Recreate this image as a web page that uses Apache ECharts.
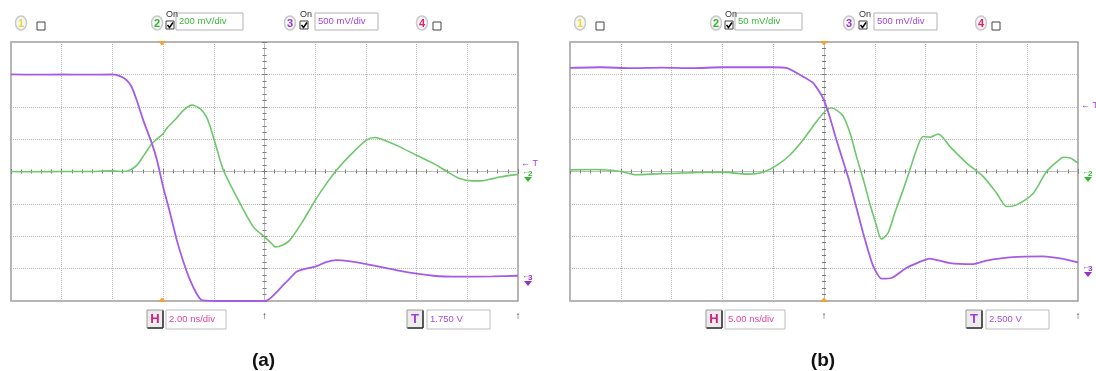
<!DOCTYPE html>
<html>
<head>
<meta charset="utf-8">
<script src="https://cdn.jsdelivr.net/npm/echarts@6/dist/echarts.min.js"></script>
<style>
html,body{margin:0;padding:0;background:#fff;}
#chart{width:1096px;height:371px;}
</style>
</head>
<body>
<div id="chart"></div>
<script>
// ---------- Data (time in ns, amplitude in screen divisions) ----------
// Panel (a): 2.00 ns/div
const aCh2Time = [-10, -9, -8, -7, -6, -5.56, -5.3, -5.04, -4.74, -4.44, -4.0, -3.86, -3.5, -3.2, -2.86, -2.54, -2.3, -2.14, -1.9, -1.62, -1.1, -0.44, 0.0, 0.34, 0.42, 0.7, 1.0, 1.5, 2.0, 2.4, 2.84, 3.4, 4.02, 4.36, 4.8, 5.34, 6.0, 6.66, 7.2, 7.7, 8.2, 8.56, 9.0, 9.28, 10];
const aCh2Val  = [0.0, -0.01, 0.0, 0.0, 0.02, 0.0, 0.05, 0.19, 0.52, 0.86, 1.17, 1.33, 1.62, 1.89, 2.05, 1.94, 1.7, 1.38, 0.75, 0.04, -0.78, -1.71, -2.02, -2.27, -2.33, -2.28, -2.12, -1.55, -0.89, -0.42, 0.04, 0.52, 0.97, 1.05, 0.94, 0.76, 0.5, 0.25, 0.0, -0.22, -0.29, -0.29, -0.22, -0.17, -0.09];
const aCh3Time = [-10, -9, -8, -7, -6, -5.68, -5.44, -5.24, -5.04, -4.78, -4.44, -4.24, -4.0, -3.72, -3.46, -3.2, -2.94, -2.68, -2.48, -1.5, -0.5, 0.02, 0.22, 0.62, 1.0, 1.26, 1.52, 2.0, 2.46, 2.84, 3.24, 4.02, 5.34, 6.66, 7.7, 9.0, 10];
const aCh3Val  = [3.0, 2.99, 3.0, 2.99, 3.0, 2.94, 2.82, 2.61, 2.2, 1.58, 0.86, 0.35, -0.47, -1.3, -2.12, -2.79, -3.35, -3.77, -3.97, -4.0, -4.0, -4.0, -3.92, -3.61, -3.3, -3.1, -3.02, -2.94, -2.79, -2.74, -2.76, -2.86, -3.07, -3.22, -3.25, -3.24, -3.22];

// Panel (b): 5.00 ns/div
const bCh2Time = [-25, -22.5, -20, -18.5, -17, -15, -12.5, -10, -7.5, -6, -4.7, -3.35, -2.05, -0.75, 0.25, 0.75, 1.3, 1.9, 2.6, 3.2, 3.9, 4.5, 5.1, 5.65, 6.3, 7.0, 7.8, 8.5, 9.1, 9.75, 10.4, 11.25, 12.4, 14.05, 15.65, 17.0, 17.95, 18.95, 20.6, 21.9, 23.0, 23.55, 24.25, 25];
const bCh2Val  = [0.05, 0.06, 0.0, -0.1, -0.08, -0.06, -0.03, -0.02, -0.08, -0.02, 0.18, 0.51, 0.98, 1.54, 1.9, 1.96, 1.88, 1.7, 1.15, 0.46, -0.28, -0.98, -1.6, -2.09, -1.9, -1.25, -0.56, 0.1, 0.67, 1.08, 1.06, 1.16, 0.77, 0.26, -0.15, -0.67, -1.08, -1.03, -0.67, 0.0, 0.32, 0.44, 0.42, 0.26];
const bCh3Time = [-25, -22, -19, -16, -13, -10, -7, -5, -3.7, -2.05, -1.05, -0.1, 0.5, 1.25, 1.9, 2.55, 3.2, 3.85, 4.4, 4.85, 5.65, 6.65, 8.1, 9.2, 10.4, 12.4, 14.7, 16.0, 18.3, 21.55, 23.55, 25];
const bCh3Val  = [3.2, 3.22, 3.19, 3.21, 3.19, 3.22, 3.22, 3.22, 3.2, 2.93, 2.73, 2.27, 1.75, 0.95, 0.3, -0.36, -1.13, -1.9, -2.5, -2.93, -3.31, -3.29, -2.98, -2.82, -2.69, -2.83, -2.86, -2.75, -2.65, -2.62, -2.70, -2.81];

// Axis scales
const aTimeMin = -10, aTimeMax = 10, aTimeStep = 2;   // 2 ns/div
const bTimeMin = -25, bTimeMax = 25, bTimeStep = 5;   // 5 ns/div
const divMin = -4, divMax = 4, divStep = 1;           // 8 vertical divisions

// Labels
const aLabels = {ch2: '200 mV/div', ch3: '500 mV/div', h: '2.00 ns/div', t: '1.750 V', name: '(a)'};
const bLabels = {ch2: '50 mV/div', ch3: '500 mV/div', h: '5.00 ns/div', t: '2.500 V', name: '(b)'};

// ---------- Build chart ----------
const GREEN = '#6cc86a';
const PURPLE = '#a45ce6';
const pairs = (t, v) => t.map((x, i) => [x, v[i]]);

const panels = [
  {left: 11, top: 42, width: 507, height: 259, tmin: aTimeMin, tmax: aTimeMax, tstep: aTimeStep,
   g: pairs(aCh2Time, aCh2Val), p: pairs(aCh3Time, aCh3Val)},
  {left: 570, top: 42, width: 508, height: 259, tmin: bTimeMin, tmax: bTimeMax, tstep: bTimeStep,
   g: pairs(bCh2Time, bCh2Val), p: pairs(bCh3Time, bCh3Val)}
];

const grid = [], xAxis = [], yAxis = [], series = [];
panels.forEach((P, gi) => {
  grid.push({left: P.left, top: P.top, width: P.width, height: P.height, show: true,
    borderColor: '#9c9c9c', borderWidth: 1.5, backgroundColor: '#fff', containLabel: false});
  const xMain = xAxis.length, yMain = yAxis.length;
  const gridLine = {show: true, lineStyle: {color: '#b8b8b8', type: 'dotted', width: 1}};
  const tickStyle = {color: '#7a7a7a', width: 1};
  // main x (grid lines)
  xAxis.push({gridIndex: gi, type: 'value', min: P.tmin, max: P.tmax, interval: P.tstep,
    axisLine: {show: false, onZero: false}, axisTick: {show: false}, axisLabel: {show: false}, splitLine: gridLine});
  // centre x tick axes (up and down)
  [true, false].forEach(inside => {
    xAxis.push({gridIndex: gi, type: 'value', position: 'bottom', min: P.tmin, max: P.tmax, interval: P.tstep,
      axisLine: {show: true, onZero: true, onZeroAxisIndex: yMain, lineStyle: {color: '#b8b8b8', type: 'dotted'}},
      axisTick: {show: true, inside: inside, length: 2.5, lineStyle: tickStyle},
      minorTick: {show: true, splitNumber: 5, length: 2, lineStyle: tickStyle},
      axisLabel: {show: false}, splitLine: {show: false}});
  });
  // main y
  yAxis.push({gridIndex: gi, type: 'value', min: divMin, max: divMax, interval: divStep,
    axisLine: {show: false, onZero: false}, axisTick: {show: false}, axisLabel: {show: false}, splitLine: gridLine});
  [true, false].forEach(inside => {
    yAxis.push({gridIndex: gi, type: 'value', position: 'left', min: divMin, max: divMax, interval: divStep,
      axisLine: {show: true, onZero: true, onZeroAxisIndex: xMain, lineStyle: {color: '#b8b8b8', type: 'dotted'}},
      axisTick: {show: true, inside: inside, length: 2.5, lineStyle: tickStyle},
      minorTick: {show: true, splitNumber: 5, length: 2, lineStyle: tickStyle},
      axisLabel: {show: false}, splitLine: {show: false}});
  });
  series.push({type: 'line', xAxisIndex: xMain, yAxisIndex: yMain, data: P.g, showSymbol: false,
    smooth: 0.25, lineStyle: {color: GREEN, width: 1.6}, itemStyle: {color: GREEN}, clip: true, z: 3, silent: true, animation: false});
  series.push({type: 'line', xAxisIndex: xMain, yAxisIndex: yMain, data: P.p, showSymbol: false,
    smooth: 0.2, lineStyle: {color: PURPLE, width: 1.8}, itemStyle: {color: PURPLE}, clip: true, z: 4, silent: true, animation: false});
});

// ---------- Decorations (scope UI) ----------
const FONT = 'Liberation Sans, Arial, sans-serif';
function txt(x, y, text, color, size, bold, align) {
  return {type: 'text', x: x, y: y, z: 100, silent: true,
    style: {text: text, fill: color, font: (bold ? 'bold ' : '') + size + 'px ' + FONT,
      align: align || 'left', verticalAlign: 'middle', textAlign: align || 'left', textVerticalAlign: 'middle'}};
}
function rect(x, y, w, h, fill, stroke, lw) {
  return {type: 'rect', z: 99, silent: true, shape: {x: x, y: y, width: w, height: h},
    style: {fill: fill, stroke: stroke, lineWidth: lw || 1}};
}
function line(x1, y1, x2, y2, color, lw) {
  return {type: 'line', z: 100, silent: true, shape: {x1: x1, y1: y1, x2: x2, y2: y2}, style: {stroke: color, lineWidth: lw || 1}};
}
function poly(points, color) {
  return {type: 'polygon', z: 100, silent: true, shape: {points: points}, style: {fill: color}};
}
function chanBadge(cx, cy, num, color) {
  return [
    {type: 'ellipse', z: 99, silent: true, shape: {cx: cx, cy: cy, rx: 5.5, ry: 7}, style: {fill: '#f6f6f6', stroke: '#c9c9c9', lineWidth: 1.5}},
    txt(cx, cy + 0.5, num, color, 11, true, 'center')
  ];
}
function checkbox(x, y, checked) {
  const e = [rect(x, y, 8, 8, '#fff', '#444', 1)];
  if (checked) e.push({type: 'polyline', z: 101, silent: true, shape: {points: [[x + 1.5, y + 4], [x + 3.5, y + 6.5], [x + 7, y + 1.5]]}, style: {stroke: '#000', lineWidth: 1.5, fill: null}});
  return e;
}
function button(x, y, letter, color) {
  return [
    rect(x, y, 16, 18, '#ececec', '#9a9a9a', 1),
    line(x + 0.5, y + 18, x + 16, y + 18, '#333', 1.5),
    line(x + 16, y + 0.5, x + 16, y + 18, '#333', 1.5),
    txt(x + 8, y + 9.5, letter, color, 13, true, 'center')
  ];
}
function gndMarker(x, y, num, color) {
  return [
    txt(x, y - 3, '\u2190', color, 8, false, 'left'),
    txt(x + 6, y - 1, num, color, 8, true, 'left'),
    poly([[x + 2, y + 2], [x + 10, y + 2], [x + 6, y + 7]], color)
  ];
}

function decorations(ox, L, P, trigX, trigY, gY, pY) {
  let e = [];
  const right = P.left + P.width, bottom = P.top + P.height;
  // header
  e = e.concat(chanBadge(ox + 21, 23, '1', '#e4dc2c'), checkbox(ox + 37, 22, false));
  e = e.concat(chanBadge(ox + 157, 23, '2', '#2fb52f'), [txt(ox + 166, 15, 'On', '#333', 9, false)], checkbox(ox + 166, 21, true));
  e.push(rect(ox + 176, 13, 67, 17, '#fff', '#b3b3b3', 1), txt(ox + 179, 21.5, L.ch2, '#39b839', 9.5, false));
  e = e.concat(chanBadge(ox + 290, 23, '3', '#9a35d6'), [txt(ox + 300, 15, 'On', '#333', 9, false)], checkbox(ox + 300, 21, true));
  e.push(rect(ox + 315, 13, 63, 17, '#fff', '#b3b3b3', 1), txt(ox + 318, 21.5, L.ch3, '#a045e0', 9.5, false));
  e = e.concat(chanBadge(ox + 422, 23, '4', '#e0206e'), checkbox(ox + 433, 22, false));
  // trigger position markers (orange)
  e.push(poly([[trigX - 4, P.top - 1], [trigX + 4, P.top - 1], [trigX, P.top + 3.5]], '#f3a037'));
  e.push(poly([[trigX - 4, bottom + 1], [trigX + 4, bottom + 1], [trigX, bottom - 3.5]], '#f3a037'));
  // right side markers
  e.push(txt(right + 3, trigY, '\u2190 T', '#a040d8', 9, false));
  e = e.concat(gndMarker(right + 4, gY, '2', '#35b535'), gndMarker(right + 4, pY, '3', '#9030d0'));
  // footer
  e = e.concat(button(ox + 147, 310, 'H', '#d21f80'));
  e.push(rect(ox + 166, 310, 60, 19, '#fff', '#bdbdbd', 1), txt(ox + 169, 319.5, L.h, '#e0449e', 9.5, false));
  e.push(txt(P.left + P.width / 2, 316, '\u2191', '#333', 10, true, 'center'));
  e = e.concat(button(ox + 407, 310, 'T', '#9a3fd8'));
  e.push(rect(ox + 427, 310, 63, 19, '#fff', '#bdbdbd', 1), txt(ox + 430, 319.5, L.t, '#a24fe2', 9.5, false));
  e.push(txt(right, 316, '\u2191', '#333', 10, true, 'center'));
  // panel caption
  e.push(txt(P.left + P.width / 2 - 1, 361, L.name, '#111', 19, true, 'center'));
  return e;
}

const graphic = [].concat(
  decorations(0, aLabels, panels[0], 162, 164, 175, 279),
  decorations(559, bLabels, panels[1], 824, 106, 175, 270)
);

const chart = echarts.init(document.getElementById('chart'), null, {renderer: 'canvas', width: 1096, height: 371});
chart.setOption({
  animation: false,
  backgroundColor: '#fff',
  grid: grid,
  xAxis: xAxis,
  yAxis: yAxis,
  series: series,
  graphic: {elements: graphic}
});
</script>
</body>
</html>
